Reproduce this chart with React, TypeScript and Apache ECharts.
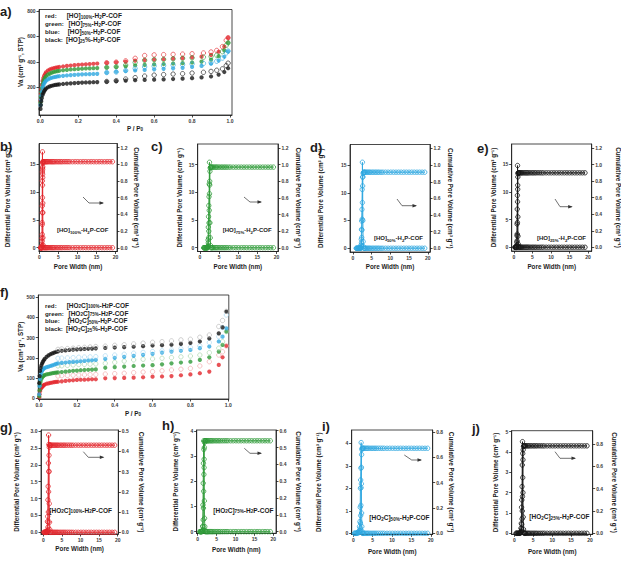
import React, { useEffect, useRef } from "react";
import * as echarts from "echarts";

const FONT = '"Liberation Sans", Arial, Helvetica, sans-serif';
const INK = "#1c1c1c";
const LABEL_INK = "#3a3a3a";

const RED = "#e2262c";
const GREEN = "#2f9a38";
const BLUE = "#2ea7e0";
const BLACK = "#151515";
const RED_PALE = "#f1a3a5";
const GREEN_PALE = "#a5d4a8";
const BLUE_PALE = "#a3d6f1";
const BLACK_PALE = "#b4b4b4";

// ---------- N2 isotherms, [HO]x%-H2P-COF (relative pressure P/P0, uptake cm3/g STP) ----------
const pAdsHO = [0.001, 0.003, 0.005, 0.008, 0.012, 0.016, 0.02, 0.025, 0.03, 0.04, 0.05, 0.06, 0.07, 0.08, 0.09, 0.1, 0.12, 0.14, 0.16, 0.18, 0.2, 0.22, 0.24, 0.26, 0.28, 0.3, 0.35, 0.4, 0.45, 0.5, 0.55, 0.6, 0.65, 0.7, 0.75, 0.8, 0.85, 0.9, 0.94, 0.97, 0.99];
const ho100Ads = [95, 150, 185, 220, 250, 272, 290, 305, 318, 332, 340, 346, 350, 354, 357, 360, 364, 368, 371, 374, 377, 379, 381, 383, 385, 387, 392, 397, 402, 410, 414, 418, 421, 425, 429, 434, 441, 455, 480, 520, 590];
const ho75Ads = [80, 125, 160, 195, 225, 245, 262, 275, 287, 300, 308, 315, 320, 324, 327, 330, 334, 337, 340, 342, 344, 346, 348, 349, 350, 351, 356, 360, 365, 372, 376, 380, 383, 387, 390, 395, 402, 418, 445, 490, 550];
const ho50Ads = [60, 100, 135, 165, 195, 215, 230, 242, 252, 262, 270, 275, 279, 282, 285, 287, 290, 293, 296, 298, 300, 302, 303, 304, 305, 306, 315, 322, 328, 333, 337, 341, 345, 349, 353, 360, 368, 385, 410, 440, 482];
const ho25Ads = [30, 60, 90, 115, 140, 155, 168, 180, 190, 200, 207, 212, 216, 219, 221, 223, 226, 229, 231, 233, 235, 237, 238, 239, 240, 241, 244, 248, 252, 256, 258, 260, 262, 265, 268, 272, 278, 285, 300, 320, 350];

const pDesHO = [0.99, 0.98, 0.96, 0.93, 0.9, 0.86, 0.8, 0.75, 0.7, 0.65, 0.6, 0.55, 0.5, 0.45, 0.4, 0.35];
const ho100Des = [590, 570, 520, 490, 478, 470, 464, 461, 459, 457, 455, 450, 428, 408, 398, 393];
const ho75Des = [550, 530, 480, 452, 442, 437, 432, 428, 424, 420, 417, 412, 395, 375, 362, 357];
const ho50Des = [485, 470, 430, 405, 395, 388, 383, 378, 374, 370, 366, 360, 348, 332, 320, 316];
const ho25Des = [390, 370, 345, 334, 325, 318, 312, 307, 304, 300, 296, 288, 276, 265, 252, 246];

// ---------- N2 isotherms, [HO2C]x%-H2P-COF ----------
const pAdsHO2C = [0.001, 0.003, 0.005, 0.008, 0.012, 0.016, 0.02, 0.025, 0.03, 0.04, 0.05, 0.06, 0.07, 0.08, 0.09, 0.1, 0.12, 0.14, 0.16, 0.18, 0.2, 0.22, 0.24, 0.26, 0.28, 0.3, 0.35, 0.4, 0.45, 0.5, 0.55, 0.6, 0.65, 0.7, 0.75, 0.8, 0.85, 0.9, 0.95, 0.97, 0.99];
const co100Ads = [5, 20, 35, 45, 52, 56, 60, 65, 68, 72, 74, 76, 78, 80, 81, 82, 84, 86, 88, 89, 91, 92, 92, 93, 94, 94, 99, 100, 101, 102, 104, 107, 108, 110, 114, 118, 124, 132, 165, 203, 259];
const co75Ads = [10, 40, 65, 82, 95, 103, 108, 112, 115, 118, 120, 122, 124, 126, 127, 128, 130, 132, 134, 136, 137, 139, 140, 141, 142, 143, 151, 154, 157, 160, 162, 164, 168, 173, 177, 181, 190, 203, 231, 264, 330];
const co50Ads = [20, 60, 95, 115, 128, 136, 142, 147, 150, 154, 157, 160, 163, 166, 170, 173, 175, 177, 179, 180, 181, 183, 185, 187, 188, 190, 195, 200, 205, 210, 215, 220, 226, 231, 235, 239, 248, 256, 281, 305, 346];
const co25Ads = [75, 110, 135, 150, 162, 172, 180, 188, 195, 205, 212, 218, 222, 226, 229, 232, 235, 237, 239, 241, 242, 243, 244, 245, 246, 247, 249, 251, 253, 255, 258, 261, 263, 265, 269, 274, 281, 296, 321, 351, 429];

const pDesHO2C = [0.99, 0.97, 0.95, 0.9, 0.85, 0.8, 0.75, 0.7, 0.65, 0.6, 0.55, 0.5, 0.45, 0.4, 0.35, 0.3, 0.27, 0.24, 0.21, 0.18, 0.15, 0.12, 0.1];
const co100Des = [259, 230, 214, 181, 160, 148, 144, 140, 136, 132, 130, 127, 124, 122, 120, 118, 117, 116, 115, 114, 113, 112, 110];
const co75Des = [330, 280, 248, 226, 214, 209, 205, 201, 198, 195, 193, 190, 184, 178, 173, 170, 169, 168, 167, 165, 163, 161, 160];
const co50Des = [412, 350, 305, 276, 259, 251, 245, 239, 235, 231, 227, 223, 218, 214, 210, 206, 205, 204, 203, 201, 200, 199, 198];
const co25Des = [430, 385, 355, 313, 302, 292, 289, 284, 280, 277, 273, 269, 265, 262, 258, 256, 254, 252, 250, 248, 246, 244, 242];

// ---------- Pore size distributions (pore width nm, differential cm3/g, cumulative cm3/g) ----------
const widthB = [0.35, 0.45, 0.55, 0.62, 0.68, 0.71, 0.73, 0.75, 0.77, 0.79, 0.81, 0.83, 0.85, 0.87, 0.89, 0.91, 0.94, 0.97, 1.0, 1.2, 1.4, 1.6, 1.8, 2.0, 2.2, 2.5, 2.8, 3.1, 3.4, 3.7, 4.0, 4.4, 4.8, 5.2, 5.6, 6.0, 6.5, 7.0, 7.5, 8.0, 8.7, 9.4, 10.1, 10.8, 11.5, 12.2, 12.9, 13.6, 14.3, 15.0, 15.7, 16.4, 17.1, 17.8, 18.5, 19.2];
const diffB = [0, 0, 0, 0, 0.3, 1.7, 4.5, 7.5, 12.0, 13.6, 17.2, 14.3, 14.0, 12.6, 8.0, 6.3, 1.8, 0.5, 0, 0,
  0, 0, 0, 0, 0, 0, 0, 0, 0, 0,
  0, 0, 0, 0, 0, 0, 0, 0, 0, 0,
  0, 0, 0, 0, 0, 0, 0, 0, 0, 0,
  0, 0, 0, 0, 0, 0];
const cumB = [0, 0, 0, 0, 0.01, 0.03, 0.08, 0.16, 0.28, 0.42, 0.6, 0.75, 0.88, 0.97, 1.01, 1.02, 1.03, 1.03, 1.03, 1.03,
  1.03, 1.03, 1.03, 1.03, 1.03, 1.03, 1.03, 1.03, 1.03, 1.03,
  1.03, 1.03, 1.03, 1.03, 1.03, 1.03, 1.03, 1.03, 1.03, 1.03,
  1.03, 1.03, 1.03, 1.03, 1.03, 1.03, 1.03, 1.03, 1.03, 1.03,
  1.03, 1.03, 1.03, 1.03, 1.03, 1.03];

const widthC = [1.0, 1.2, 1.4, 1.6, 1.8, 1.95, 2.05, 2.12, 2.18, 2.24, 2.30, 2.36, 2.42, 2.48, 2.54, 2.60, 2.68, 2.76, 2.85, 3.0, 3.2, 3.4, 3.7, 4.0, 4.3, 4.6, 5.0, 5.4, 5.8, 6.2, 6.6, 7.0, 7.5, 8.0, 8.7, 9.4, 10.1, 10.8, 11.5, 12.2, 12.9, 13.6, 14.3, 15.0, 15.7, 16.4, 17.1, 17.8, 18.5, 19.2];
const diffC = [0, 0, 0, 0, 0, 0.1, 0.3, 1.4, 3.7, 5.6, 7.6, 9.2, 11.5, 15.4, 11.3, 4.5, 1.8, 0.4, 0, 0,
  0, 0, 0, 0, 0, 0, 0, 0, 0, 0,
  0, 0, 0, 0, 0, 0, 0, 0, 0, 0,
  0, 0, 0, 0, 0, 0, 0, 0, 0, 0];
const cumC = [0, 0, 0, 0, 0, 0, 0.01, 0.02, 0.06, 0.12, 0.2, 0.3, 0.45, 0.65, 0.8, 0.92, 0.96, 0.97, 0.97, 0.97,
  0.97, 0.97, 0.97, 0.97, 0.97, 0.97, 0.97, 0.97, 0.97, 0.97,
  0.97, 0.97, 0.97, 0.97, 0.97, 0.97, 0.97, 0.97, 0.97, 0.97,
  0.97, 0.97, 0.97, 0.97, 0.97, 0.97, 0.97, 0.97, 0.97, 0.97];

const widthD = [0.9, 1.1, 1.3, 1.5, 1.7, 1.9, 2.05, 2.15, 2.22, 2.28, 2.34, 2.40, 2.46, 2.52, 2.58, 2.64, 2.72, 2.80, 2.9, 3.0, 3.2, 3.4, 3.7, 4.0, 4.3, 4.6, 5.0, 5.4, 5.8, 6.2, 6.6, 7.0, 7.5, 8.0, 8.7, 9.4, 10.1, 10.8, 11.5, 12.2, 12.9, 13.6, 14.3, 15.0, 15.7, 16.4, 17.1, 17.8, 18.5, 19.2];
const diffD = [0, 0, 0, 0, 0, 0, 0.1, 0.6, 1.6, 3.4, 4.9, 7.0, 10.6, 15.5, 12.8, 5.0, 1.2, 0.3, 0, 0,
  0, 0, 0, 0, 0, 0, 0, 0, 0, 0,
  0, 0, 0, 0, 0, 0, 0, 0, 0, 0,
  0, 0, 0, 0, 0, 0, 0, 0, 0, 0];
const cumD = [0, 0, 0, 0, 0, 0, 0, 0.01, 0.03, 0.07, 0.13, 0.22, 0.35, 0.55, 0.75, 0.86, 0.9, 0.91, 0.915, 0.915,
  0.915, 0.915, 0.915, 0.915, 0.915, 0.915, 0.915, 0.915, 0.915, 0.915,
  0.915, 0.915, 0.915, 0.915, 0.915, 0.915, 0.915, 0.915, 0.915, 0.915,
  0.915, 0.915, 0.915, 0.915, 0.915, 0.915, 0.915, 0.915, 0.915, 0.915];

const widthE = [0.3, 0.4, 0.5, 0.6, 0.68, 0.74, 0.78, 0.82, 0.86, 0.90, 0.94, 0.98, 1.02, 1.06, 1.10, 1.15, 1.2, 1.3, 1.4, 1.6, 1.8, 2.0, 2.2, 2.5, 2.8, 3.1, 3.4, 3.7, 4.0, 4.4, 4.8, 5.2, 5.6, 6.0, 6.5, 7.0, 7.5, 8.0, 8.7, 9.4, 10.1, 10.8, 11.5, 12.2, 12.9, 13.6, 14.3, 15.0, 15.7, 16.4, 17.1, 17.8, 18.5, 19.2];
const diffE = [0, 0, 0, 0, 0, 0.2, 0.9, 2.1, 4.2, 6.9, 9.4, 14.8, 10.5, 5.5, 2.0, 0.6, 0.1, 0, 0, 0,
  0, 0, 0, 0, 0, 0, 0, 0, 0, 0,
  0, 0, 0, 0, 0, 0, 0, 0, 0, 0,
  0, 0, 0, 0, 0, 0, 0, 0, 0, 0,
  0, 0, 0, 0];
const cumE = [0, 0, 0, 0, 0, 0, 0.01, 0.03, 0.08, 0.16, 0.3, 0.55, 0.75, 0.85, 0.89, 0.9, 0.9, 0.9, 0.9, 0.9,
  0.9, 0.9, 0.9, 0.9, 0.9, 0.9, 0.9, 0.9, 0.9, 0.9,
  0.9, 0.9, 0.9, 0.9, 0.9, 0.9, 0.9, 0.9, 0.9, 0.9,
  0.9, 0.9, 0.9, 0.9, 0.9, 0.9, 0.9, 0.9, 0.9, 0.9,
  0.9, 0.9, 0.9, 0.9];

const widthG = [0.2, 0.4, 0.6, 0.8, 0.95, 1.05, 1.12, 1.18, 1.24, 1.30, 1.36, 1.42, 1.48, 1.54, 1.60, 1.68, 1.76, 1.85, 2.0, 2.2, 2.5, 2.8, 3.1, 3.4, 3.7, 4.0, 4.4, 4.8, 5.2, 5.6, 6.0, 6.5, 7.0, 7.5, 8.0, 8.7, 9.4, 10.1, 10.8, 11.5, 12.2, 12.9, 13.6, 14.3, 15.0, 15.7, 16.4, 17.1, 17.8, 18.5, 19.2];
const diffG = [0, 0, 0, 0, 0.02, 0.05, 0.32, 0.47, 0.96, 1.36, 2.05, 2.88, 2.6, 1.8, 0.85, 0.3, 0.08, 0, 0, 0,
  0, 0, 0, 0, 0, 0, 0, 0, 0, 0,
  0, 0, 0, 0, 0, 0, 0, 0, 0, 0,
  0, 0, 0, 0, 0, 0, 0, 0, 0, 0,
  0];
const cumG = [0, 0, 0, 0, 0, 0.001, 0.005, 0.012, 0.025, 0.05, 0.1, 0.2, 0.3, 0.38, 0.42, 0.43, 0.43, 0.43, 0.43, 0.43,
  0.43, 0.43, 0.43, 0.43, 0.43, 0.43, 0.43, 0.43, 0.43, 0.43,
  0.43, 0.43, 0.43, 0.43, 0.43, 0.43, 0.43, 0.43, 0.43, 0.43,
  0.43, 0.43, 0.43, 0.43, 0.43, 0.43, 0.43, 0.43, 0.43, 0.43,
  0.43];

const widthH = [0.6, 0.8, 1.0, 1.15, 1.25, 1.33, 1.40, 1.46, 1.52, 1.58, 1.64, 1.70, 1.76, 1.82, 1.88, 1.95, 2.05, 2.2, 2.4, 2.6, 2.8, 3.1, 3.4, 3.7, 4.0, 4.4, 4.8, 5.2, 5.6, 6.0, 6.5, 7.0, 7.5, 8.0, 8.7, 9.4, 10.1, 10.8, 11.5, 12.2, 12.9, 13.6, 14.3, 15.0, 15.7, 16.4, 17.1, 17.8, 18.5, 19.2];
const diffH = [0, 0, 0, 0.02, 0.05, 0.22, 1.06, 1.92, 2.71, 3.6, 3.26, 2.54, 1.22, 0.53, 0.2, 0.05, 0, 0, 0, 0,
  0, 0, 0, 0, 0, 0, 0, 0, 0, 0,
  0, 0, 0, 0, 0, 0, 0, 0, 0, 0,
  0, 0, 0, 0, 0, 0, 0, 0, 0, 0];
const cumH = [0, 0, 0, 0.001, 0.003, 0.01, 0.03, 0.07, 0.14, 0.24, 0.34, 0.43, 0.5, 0.53, 0.54, 0.54, 0.54, 0.54, 0.54, 0.54,
  0.54, 0.54, 0.54, 0.54, 0.54, 0.54, 0.54, 0.54, 0.54, 0.54,
  0.54, 0.54, 0.54, 0.54, 0.54, 0.54, 0.54, 0.54, 0.54, 0.54,
  0.54, 0.54, 0.54, 0.54, 0.54, 0.54, 0.54, 0.54, 0.54, 0.54];

const widthI = [0.3, 0.6, 0.9, 1.2, 1.45, 1.6, 1.7, 1.78, 1.84, 1.90, 1.96, 2.02, 2.08, 2.14, 2.20, 2.28, 2.36, 2.45, 2.6, 2.8, 3.1, 3.4, 3.7, 4.0, 4.4, 4.8, 5.2, 5.6, 6.0, 6.5, 7.0, 7.5, 8.0, 8.7, 9.4, 10.1, 10.8, 11.5, 12.2, 12.9, 13.6, 14.3, 15.0, 15.7, 16.4, 17.1, 17.8, 18.5, 19.2];
const diffI = [0, 0, 0, 0.05, 0.1, 0.3, 0.52, 1.16, 2.0, 2.37, 2.89, 4.03, 2.2, 0.9, 0.3, 0.08, 0, 0, 0, 0,
  0, 0, 0, 0, 0, 0, 0, 0, 0, 0,
  0, 0, 0, 0, 0, 0, 0, 0, 0, 0,
  0, 0, 0, 0, 0, 0, 0, 0, 0];
const cumI = [0, 0, 0, 0.002, 0.005, 0.01, 0.02, 0.04, 0.08, 0.14, 0.22, 0.36, 0.52, 0.62, 0.66, 0.67, 0.67, 0.67, 0.67, 0.67,
  0.67, 0.67, 0.67, 0.67, 0.67, 0.67, 0.67, 0.67, 0.67, 0.67,
  0.67, 0.67, 0.67, 0.67, 0.67, 0.67, 0.67, 0.67, 0.67, 0.67,
  0.67, 0.67, 0.67, 0.67, 0.67, 0.67, 0.67, 0.67, 0.67];

const widthJ = [0.5, 0.8, 1.1, 1.4, 1.6, 1.75, 1.85, 1.92, 1.98, 2.04, 2.10, 2.16, 2.22, 2.28, 2.34, 2.42, 2.5, 2.6, 2.75, 2.9, 3.1, 3.4, 3.7, 4.0, 4.4, 4.8, 5.2, 5.6, 6.0, 6.5, 7.0, 7.5, 8.0, 8.7, 9.4, 10.1, 10.8, 11.5, 12.2, 12.9, 13.6, 14.3, 15.0, 15.7, 16.4, 17.1, 17.8, 18.5, 19.2];
const diffJ = [0, 0, 0, 0, 0.05, 0.25, 0.49, 1.28, 1.64, 2.3, 3.36, 4.51, 3.93, 2.0, 0.8, 0.2, 0.05, 0, 0, 0,
  0, 0, 0, 0, 0, 0, 0, 0, 0, 0,
  0, 0, 0, 0, 0, 0, 0, 0, 0, 0,
  0, 0, 0, 0, 0, 0, 0, 0, 0];
const cumJ = [0, 0, 0, 0, 0.002, 0.01, 0.02, 0.04, 0.08, 0.13, 0.2, 0.33, 0.5, 0.66, 0.75, 0.78, 0.785, 0.785, 0.785, 0.785,
  0.785, 0.785, 0.785, 0.785, 0.785, 0.785, 0.785, 0.785, 0.785, 0.785,
  0.785, 0.785, 0.785, 0.785, 0.785, 0.785, 0.785, 0.785, 0.785, 0.785,
  0.785, 0.785, 0.785, 0.785, 0.785, 0.785, 0.785, 0.785, 0.785];

// ---------- tick positions ----------
const pressureTicks = [0, 0.2, 0.4, 0.6, 0.8, 1.0];
const uptakeTicksHO = [200, 400, 600, 800];
const uptakeTicksHO2C = [0, 100, 200, 300, 400, 500];
const widthTicks = [0, 5, 10, 15, 20];
const diffTicksHO = [0, 5, 10, 15];
const cumTicksHO = [0, 0.2, 0.4, 0.6, 0.8, 1.0, 1.2];
const diffTicksG = [0, 0.5, 1.0, 1.5, 2.0, 2.5, 3.0];
const cumTicksG = [0, 0.1, 0.2, 0.3, 0.4, 0.5];
const diffTicksH = [0, 1, 2, 3, 4];
const cumTicksH = [0, 0.1, 0.2, 0.3, 0.4, 0.5, 0.6];
const diffTicksI = [0, 1, 2, 3, 4];
const cumTicksI = [0, 0.2, 0.4, 0.6, 0.8];
const diffTicksJ = [0, 1, 2, 3, 4, 5];
const cumTicksJ = [0, 0.2, 0.4, 0.6, 0.8];

const zip = (xs: number[], ys: number[]) => xs.map((x, i) => [x, ys[i]]);

const NAME_SIZE = 6.3;
const Y_UPTAKE = "Va (cm³ g⁻¹, STP)";
const Y_DIFF = "Differential Pore Volume (cm³ g⁻¹)";
const Y_CUM = "Cumulative Pore Volume (cm³ g⁻¹)";
const X_WIDTH = "Pore Width (nm)";

function makeAxis(gridIndex: number, min: number, max: number, ticks: number[], decimals: number, position: string) {
  return {
    type: "value",
    gridIndex,
    min,
    max,
    position,
    axisLine: { show: true, onZero: false, lineStyle: { color: INK, width: 0.8 } },
    axisTick: { show: true, inside: false, length: 2.5, customValues: ticks, lineStyle: { color: INK, width: 0.8 } },
    axisLabel: {
      show: true,
      customValues: ticks,
      margin: position === "bottom" ? 3 : 3.5,
      fontSize: 5,
      fontWeight: "bold",
      fontFamily: FONT,
      color: LABEL_INK,
      formatter: (v: number) => v.toFixed(decimals),
    },
    splitLine: { show: false },
  };
}

function makeGrid(b: { left: number; top: number; width: number; height: number }) {
  return { ...b, show: true, borderColor: INK, borderWidth: 0.8, backgroundColor: "rgba(0,0,0,0)" };
}

function text(x: number, y: number, t: string, o: any = {}) {
  return {
    type: "text",
    x,
    y,
    rotation: o.rotation || 0,
    silent: true,
    z: 10,
    style: {
      text: t,
      fontSize: o.fontSize || NAME_SIZE,
      fontWeight: "bold",
      fontFamily: o.fontFamily || FONT,
      fill: o.fill || INK,
      align: o.align || "center",
      verticalAlign: "middle",
      rich: o.rich,
    },
  };
}

function richStyles(main: number, sub: number) {
  return {
    t: { fontSize: main, fontWeight: "bold", fontFamily: FONT, fill: INK, color: INK, lineHeight: main + 2 },
    s: { fontSize: sub, fontWeight: "bold", fontFamily: FONT, fill: INK, color: INK, lineHeight: sub, verticalAlign: "bottom" },
  };
}

function arrow(pts: number[][]) {
  const [ex, ey] = pts[pts.length - 1];
  return [
    { type: "polyline", silent: true, z: 10, shape: { points: pts }, style: { stroke: "#333", lineWidth: 0.7, fill: null } },
    { type: "polygon", silent: true, z: 10, shape: { points: [[ex + 1, ey], [ex - 3.5, ey - 1.7], [ex - 3.5, ey + 1.7]] }, style: { fill: "#333" } },
  ];
}

const isoPanels = [
  {
    letter: "a)", letterAt: [0, 11.5],
    box: { left: 39, top: 9.5, width: 193, height: 105.5 },
    x: [-0.007, 1.0105], y: [-18, 812], yTicks: uptakeTicksHO,
    yNameAt: [20, 62], xNameAt: [135, 128.3],
    rows: [
      { name: "red:", compound: "{t|[HO]}{s|100%}{t|-H}{s|2}{t|P-COF}", cx: 66.7, y: 15.7, color: RED, open: RED, ads: ho100Ads, des: ho100Des },
      { name: "green:", compound: "{t|[HO]}{s|75%}{t|-H}{s|2}{t|P-COF}", cx: 68.5, y: 23.7, color: GREEN, open: GREEN, ads: ho75Ads, des: ho75Des },
      { name: "blue:", compound: "{t|[HO]}{s|50%}{t|-H}{s|2}{t|P-COF}", cx: 67.7, y: 31.5, color: BLUE, open: BLUE, ads: ho50Ads, des: ho50Des },
      { name: "black:", compound: "{t|[HO]}{s|25}{t|%-H}{s|2}{t|P-COF}", cx: 66, y: 39.3, color: BLACK, open: BLACK, ads: ho25Ads, des: ho25Des },
    ],
    pAds: pAdsHO, pDes: pDesHO,
  },
  {
    letter: "f)", letterAt: [0, 292],
    box: { left: 38.3, top: 295, width: 190.5, height: 104 },
    x: [-0.004, 1.003], y: [-3.5, 511], yTicks: uptakeTicksHO2C,
    yNameAt: [20, 346.7], xNameAt: [133, 413],
    rows: [
      { name: "red:", compound: "{t|[HO}{s|2}{t|C]}{s|100%}{t|-H}{s|2}{t|P-COF}", cx: 66.7, y: 305, color: RED, open: RED_PALE, ads: co100Ads, des: co100Des },
      { name: "green:", compound: "{t|[HO}{s|2}{t|C]}{s|75%}{t|-H}{s|2}{t|P-COF}", cx: 68.5, y: 313, color: GREEN, open: GREEN_PALE, ads: co75Ads, des: co75Des },
      { name: "blue:", compound: "{t|[HO}{s|2}{t|C]}{s|50%}{t|-H}{s|2}{t|P-COF}", cx: 67.7, y: 320.7, color: BLUE, open: BLUE_PALE, ads: co50Ads, des: co50Des },
      { name: "black:", compound: "{t|[HO}{s|2}{t|C]}{s|25}{t|%-H}{s|2}{t|P-COF}", cx: 66, y: 328.3, color: BLACK, open: BLACK_PALE, ads: co25Ads, des: co25Des },
    ],
    pAds: pAdsHO2C, pDes: pDesHO2C,
  },
];

const psdPanels = [
  { letter: "b)", letterAt: [0, 146], color: RED, widths: widthB, diff: diffB, cum: cumB,
    legend: "{t|[HO]}{s|100%}{t|-H}{s|2}{t|P-COF}", legendAt: [57, 230], small: true,
    box: { left: 39, top: 143.5, width: 78, height: 108 }, x: [-0.1, 20.4], yl: [-0.68, 18.7], yr: [-0.044, 1.248],
    ylTicks: diffTicksHO, ylDec: 0, yrTicks: cumTicksHO, yrDec: 1, ylName: 7.3, yrName: 136.7, xNameY: 266,
    arrow: [[83, 197], [89, 203], [103, 203]] },
  { letter: "c)", letterAt: [151, 146], color: GREEN, widths: widthC, diff: diffC, cum: cumC,
    legend: "{t|[HO]}{s|75%}{t|-H}{s|2}{t|P-COF}", legendAt: [222.7, 230], small: true,
    box: { left: 197.7, top: 144, width: 80.3, height: 107.5 }, x: [-0.6, 20.4], yl: [-0.68, 18.7], yr: [-0.044, 1.248],
    ylTicks: diffTicksHO, ylDec: 0, yrTicks: cumTicksHO, yrDec: 1, ylName: 179.3, yrName: 298.3, xNameY: 266,
    arrow: [[244, 197], [250, 202], [261, 202]] },
  { letter: "d)", letterAt: [310, 147], color: BLUE, widths: widthD, diff: diffD, cum: cumD,
    legend: "{t|[HO]}{s|50%}{t|-H}{s|2}{t|P-COF}", legendAt: [374, 238], small: true,
    box: { left: 350, top: 144.5, width: 80, height: 107.5 }, x: [-0.8, 20.6], yl: [-0.68, 18.7], yr: [-0.044, 1.248],
    ylTicks: diffTicksHO, ylDec: 0, yrTicks: cumTicksHO, yrDec: 1, ylName: 320, yrName: 450, xNameY: 266,
    arrow: [[397, 199], [402, 205.7], [416, 205.7]] },
  { letter: "e)", letterAt: [477, 148], color: BLACK, widths: widthE, diff: diffE, cum: cumE,
    legend: "{t|[HO]}{s|25%}{t|-H}{s|2}{t|P-COF}", legendAt: [537, 238], small: true,
    box: { left: 511.7, top: 144, width: 80, height: 107 }, x: [-0.6, 21.0], yl: [-0.68, 18.7], yr: [-0.044, 1.248],
    ylTicks: diffTicksHO, ylDec: 0, yrTicks: cumTicksHO, yrDec: 1, ylName: 493.3, yrName: 618, xNameY: 266,
    arrow: [[555, 199], [560, 206.7], [571.7, 206.7]] },
  { letter: "g)", letterAt: [0, 427], color: RED, widths: widthG, diff: diffG, cum: cumG,
    legend: "{t|[HO}{s|2}{t|C]}{s|100%}{t|-H}{s|2}{t|P-COF}", legendAt: [49.3, 510], small: false,
    box: { left: 41, top: 430, width: 77.3, height: 104 }, x: [-0.62, 20.16], yl: [-0.05, 3.03], yr: [-0.0084, 0.505],
    ylTicks: diffTicksG, ylDec: 1, yrTicks: cumTicksG, yrDec: 1, ylName: 16.7, yrName: 141.7, xNameY: 548.3,
    arrow: [[83.3, 451.7], [88.3, 457.3], [103.3, 457.3]] },
  { letter: "h)", letterAt: [162, 425], color: GREEN, widths: widthH, diff: diffH, cum: cumH,
    legend: "{t|[HO}{s|2}{t|C]}{s|75%}{t|-H}{s|2}{t|P-COF}", legendAt: [213.3, 510], small: false,
    box: { left: 196.7, top: 430, width: 79.3, height: 103.3 }, x: [-0.26, 20.7], yl: [-0.065, 4.03], yr: [-0.0095, 0.604],
    ylTicks: diffTicksH, ylDec: 0, yrTicks: cumTicksH, yrDec: 1, ylName: 175, yrName: 298.3, xNameY: 549.3,
    arrow: [[244.3, 448.3], [250, 453.3], [261, 453.3]] },
  { letter: "i)", letterAt: [322, 426], color: BLUE, widths: widthI, diff: diffI, cum: cumI,
    legend: "{t|[HO}{s|2}{t|C]}{s|50%}{t|-H}{s|2}{t|P-COF}", legendAt: [369.3, 517.7], small: false,
    box: { left: 351.7, top: 430, width: 81, height: 104.3 }, x: [-0.42, 20.5], yl: [-0.044, 4.59], yr: [-0.008, 0.814],
    ylTicks: diffTicksI, ylDec: 0, yrTicks: cumTicksI, yrDec: 1, ylName: 318.3, yrName: 451.7, xNameY: 551,
    arrow: [[404.3, 455], [411.7, 460], [421, 460]] },
  { letter: "j)", letterAt: [472, 428], color: BLACK, widths: widthJ, diff: diffJ, cum: cumJ,
    legend: "{t|[HO}{s|2}{t|C]}{s|25%}{t|-H}{s|2}{t|P-COF}", legendAt: [529.3, 516.7], small: false,
    box: { left: 511.7, top: 430.7, width: 81, height: 103.6 }, x: [-0.69, 20.7], yl: [-0.05, 5.05], yr: [-0.009, 0.921],
    ylTicks: diffTicksJ, ylDec: 0, yrTicks: cumTicksJ, yrDec: 1, ylName: 495, yrName: 614, xNameY: 551.7,
    arrow: [[555, 451.7], [560, 458.3], [575, 458.3]] },
];

function buildOption() {
  const grid: any[] = [];
  const xAxis: any[] = [];
  const yAxis: any[] = [];
  const series: any[] = [];
  const graphic: any[] = [];

  for (const p of isoPanels) {
    const gi = grid.length;
    grid.push(makeGrid(p.box));
    const xi = xAxis.length;
    xAxis.push(makeAxis(gi, p.x[0], p.x[1], pressureTicks, 1, "bottom"));
    const yi = yAxis.length;
    yAxis.push(makeAxis(gi, p.y[0], p.y[1], p.yTicks, 0, "left"));
    for (const r of p.rows) {
      series.push({
        type: "scatter", xAxisIndex: xi, yAxisIndex: yi, silent: true,
        data: zip(p.pAds, r.ads), symbol: "circle", symbolSize: 4.2,
        itemStyle: { color: r.color },
      });
      series.push({
        type: "scatter", xAxisIndex: xi, yAxisIndex: yi, silent: true,
        data: zip(p.pDes, r.des), symbol: "circle", symbolSize: 4.4,
        itemStyle: { color: "rgba(0,0,0,0)", borderColor: r.open, borderWidth: 0.8 },
      });
      graphic.push(text(45, r.y, r.name, { align: "left", fontSize: 6.2 }));
      graphic.push(text(r.cx, r.y, r.compound, { align: "left", rich: richStyles(6.5, 4.5) }));
    }
    graphic.push(text(p.yNameAt[0], p.yNameAt[1], Y_UPTAKE, { rotation: Math.PI / 2 }));
    graphic.push(text(p.xNameAt[0], p.xNameAt[1], "{t|P / P}{s|0}", { rich: richStyles(NAME_SIZE, 4.5) }));
    graphic.push(text(p.letterAt[0], p.letterAt[1], p.letter, { align: "left", fontSize: 13 }));
  }

  for (const p of psdPanels) {
    const gi = grid.length;
    grid.push(makeGrid(p.box));
    const xi = xAxis.length;
    xAxis.push(makeAxis(gi, p.x[0], p.x[1], widthTicks, 0, "bottom"));
    const yl = yAxis.length;
    yAxis.push(makeAxis(gi, p.yl[0], p.yl[1], p.ylTicks, p.ylDec, "left"));
    const yr = yAxis.length;
    yAxis.push(makeAxis(gi, p.yr[0], p.yr[1], p.yrTicks, p.yrDec, "right"));
    const lineSeries = (data: number[][], yIndex: number) => ({
      type: "line", xAxisIndex: xi, yAxisIndex: yIndex, silent: true,
      data, symbol: "circle", symbolSize: 4.4, showSymbol: true, showAllSymbol: true,
      lineStyle: { color: p.color, width: 0.9 },
      itemStyle: { color: "rgba(0,0,0,0)", borderColor: p.color, borderWidth: 0.8 },
    });
    series.push(lineSeries(zip(p.widths, p.diff), yl));
    series.push(lineSeries(zip(p.widths, p.cum), yr));

    const midY = p.box.top + p.box.height / 2;
    const midX = p.box.left + p.box.width / 2;
    graphic.push(text(p.ylName, midY, Y_DIFF, { rotation: Math.PI / 2 }));
    graphic.push(text(p.yrName, midY, Y_CUM, { rotation: -Math.PI / 2 }));
    graphic.push(text(midX, p.xNameY, X_WIDTH));
    graphic.push(text(p.legendAt[0], p.legendAt[1], p.legend, {
      align: "left", rich: p.small ? richStyles(6, 4.3) : richStyles(6.5, 4.6),
    }));
    graphic.push(...arrow(p.arrow));
    graphic.push(text(p.letterAt[0], p.letterAt[1], p.letter, { align: "left", fontSize: 13 }));
  }

  return {
    animation: false,
    backgroundColor: "#ffffff",
    textStyle: { fontFamily: FONT },
    grid,
    xAxis,
    yAxis,
    series,
    graphic: { elements: graphic },
  };
}

export default function App() {
  const ref = useRef<HTMLDivElement>(null);
  useEffect(() => {
    const chart = echarts.init(ref.current!, null, { renderer: "svg" });
    chart.setOption(buildOption() as any);
    return () => chart.dispose();
  }, []);
  return (
    <div
      ref={ref}
      style={{ position: "fixed", left: 0, top: 0, width: 621, height: 562, background: "#fff" }}
    />
  );
}
